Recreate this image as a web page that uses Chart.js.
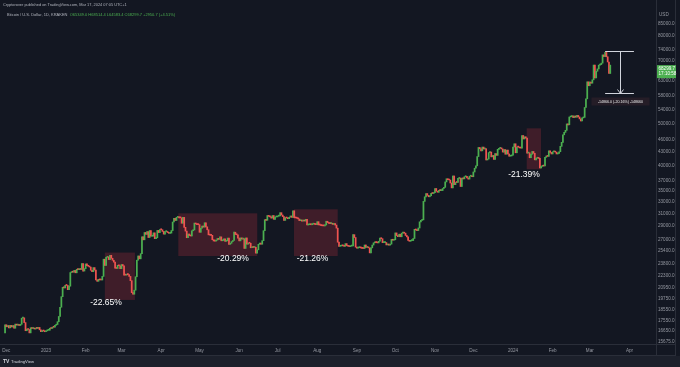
<!DOCTYPE html>
<html><head><meta charset="utf-8">
<script src="https://cdn.jsdelivr.net/npm/chart.js@4.4.1/dist/chart.umd.min.js"></script>
<style>html,body{margin:0;padding:0;background:#131722;overflow:hidden}#wrap{width:680px;height:367px}</style>
</head><body><div id="wrap"><canvas id="c" width="680" height="367"></canvas></div>
<script>
// ---- Data: daily closes (BTC/USD, Kraken, 1D) ----
const firstOpen = 16445;
// day offsets (days since 1 Jan 2023) of the first candle of each block
const monthStarts = [-32, -31, 0, 31, 59, 90, 120, 151, 181, 212, 243, 273, 304, 334, 365, 396, 425];
const nov2022 = [17165];
const dec2022 = [16980,17095,16885,17110,16965,17090,16850,17225,17130,17130,17100,17210,17780,17810,17365,16630,16780,16740,16440,16900,16825,16830,16780,16840,16835,16920,16710,16550,16630,16605,16540];
const jan2023 = [16615,16670,16675,16850,16830,16950,16940,17120,17190,17445,17940,18845,19930,20955,20880,21170,21160,20690,21075,22660,22780,22710,22920,22630,23060,23010,23080,23030,23775,22840,23140];
const feb2023 = [23725,23490,23430,23330,22940,22760,23265,22960,21795,21630,21860,21790,21775,22200,24330,23530,24570,24630,24280,24840,24450,24190,23950,23190,23160,23555,23490,23130];
const mar2023 = [23650,23475,22360,22350,22430,22410,22200,21700,20365,20190,20630,22160,24200,24750,24375,25050,27420,26970,28040,27770,28175,27300,28330,27490,27495,27990,27140,27265,28350,28030,28480];
const apr2023 = [28450,28200,27800,28170,28170,28040,27920,27950,28330,29650,30240,29890,30390,30480,30320,30315,29450,30390,28820,28250,27270,27820,27590,27520,28300,28420,29480,29340,29250,29235];
const may2023 = [28070,28680,29030,28850,29535,28900,28450,27695,27650,27620,26990,26800,26785,26930,27170,27030,27400,26830,26890,27110,26750,26850,27220,26330,26480,26720,26870,28085,27745,27700,27220];
const jun2023 = [26820,27250,27075,27120,25760,27240,26350,26500,26480,25850,25940,25900,25920,25125,25575,26330,26510,26340,26845,28310,30020,29920,30690,30550,30480,30270,30690,30080,30450,30470];
const jul2023 = [30590,30620,31160,30770,30510,29900,30350,30290,30170,30410,30620,30390,31480,30320,30300,30250,30140,29860,29910,29800,29910,29800,30080,29180,29230,29350,29220,29310,29350,29280,29230];
const aug2023 = [29700,29190,29180,29080,29050,29040,29180,29770,29560,29430,29400,29420,29280,29410,29170,28700,26630,26050,26100,26190,26120,26050,26430,26160,26060,26010,26090,26100,27720,27300,25940];
const sep2023 = [25800,25870,25970,25820,25780,25750,26240,25900,25900,25840,25160,25840,26230,26540,26600,26570,26530,26760,27210,27130,26570,26580,26580,26250,26300,26220,26360,27030,26910,26970];
const oct2023 = [27980,27590,27430,27790,27410,27950,27970,27940,27600,27390,26870,26760,26860,26860,27160,28520,28420,28330,28720,29680,29910,29990,33090,33900,34500,34160,33910,34090,34540,34500,34670];
const nov2023 = [35440,34940,34730,35080,35040,35050,35430,35650,36700,37320,37130,37070,36490,35550,37880,36160,36590,36580,37380,37470,35810,37420,37290,37720,37800,37480,37250,37830,37860,37720];
const dec2023 = [38690,39470,39980,41990,44080,43770,43290,44170,43720,43790,41240,41450,42890,43020,41930,42240,41360,42660,42260,43650,43870,43990,43720,43010,43590,42520,43440,42580,42070,42140,42280];
const jan2024 = [44180,44950,42850,44180,44160,43970,43930,46970,46120,46650,46340,42780,42850,41730,42510,43150,42740,41270,41620,41660,41580,39510,39850,40080,39930,41820,42120,42030,43300,42940,42580];
const feb2024 = [43080,43190,43000,42580,42700,43090,44340,45300,47150,47770,48290,49960,49720,51830,51940,52130,51660,52120,51780,52260,51850,51310,50740,51570,51730,54520,57090,62500,61200];
const mar2024 = [62440,62030,63160,68330,63800,66110,66940,68300,68500,69020,72120,71480,73080,71400,69460,65320,68300];
const monthCloses = [nov2022,dec2022,jan2023,feb2023,mar2023,apr2023,may2023,jun2023,jul2023,aug2023,sep2023,oct2023,nov2023,dec2023,jan2024,feb2024,mar2024];

// axis ticks
const monthTickDays = [-31,0,31,59,90,120,151,181,212,243,273,304,334,365,396,425,456];
const monthTickLabels = ['Dec','2023','Feb','Mar','Apr','May','Jun','Jul','Aug','Sep','Oct','Nov','Dec','2024','Feb','Mar','Apr'];
const priceTicks = [85000,80000,74000,70000,63000,58000,54000,50000,46000,43000,40000,37000,35000,33000,31000,29000,27000,25400,23800,22300,20950,19750,18550,17550,16650,15675];

// drawdown boxes (day range, high, low) and their labels
const boxStartDays = [46, 103.4, 193.8, 375.7];
const boxEndDays   = [69.5, 165.1, 228, 386.9];
const boxHighs = [25200, 31050, 31720, 48800];
const boxLows  = [19590, 24740, 24740, 39250];
const boxLabels = ['-22.65%', '-20.29%', '-21.26%', '-21.39%'];
const labelDays = [46.9, 146.2, 208.3, 373.6];
const labelPrices = [19270, 24350, 24350, 38070];

// price range measurement
const measureDays = [437, 459.5];
const measureTop = 73750;
const measureBottom = 58884;
const measureText = '-14866.0 (-20.16%) -148660';
const lastPrice = 68299.7;

// ---- build candles ----
const candles = [];
let prev = firstOpen;
monthStarts.forEach((start, m) => {
  monthCloses[m].forEach((c, k) => {
    candles.push({x: start + k, y: [prev, c]});
    prev = c;
  });
});

const upColor = '#4caf50', downColor = '#ef5350';
const BG = '#131722';
const FONT = '"Liberation Sans", Arial, sans-serif';

const decor = {
  id: 'decor',
  beforeDraw(chart) {
    const ctx = chart.ctx;
    ctx.save();
    ctx.fillStyle = BG;
    ctx.fillRect(0, 0, 680, 367);
    ctx.fillStyle = '#1c202b';
    ctx.fillRect(0, 356, 680, 11);
    ctx.strokeStyle = '#2a2e39';
    ctx.lineWidth = 1;
    ctx.beginPath();
    ctx.moveTo(656.5, 0); ctx.lineTo(656.5, 356);
    ctx.moveTo(675.5, 0); ctx.lineTo(675.5, 356);
    ctx.moveTo(0, 344.5); ctx.lineTo(676, 344.5);
    ctx.moveTo(0, 355.5); ctx.lineTo(676, 355.5);
    ctx.stroke();
    ctx.restore();
  },
  beforeDatasetsDraw(chart) {
    const ctx = chart.ctx, xs = chart.scales.x, ys = chart.scales.y;
    ctx.save();
    ctx.fillStyle = 'rgba(242,54,69,0.2)';
    for (let i = 0; i < boxStartDays.length; i++) {
      const x1 = xs.getPixelForValue(boxStartDays[i]);
      const x2 = xs.getPixelForValue(boxEndDays[i]);
      const y1 = ys.getPixelForValue(boxHighs[i]);
      const y2 = ys.getPixelForValue(boxLows[i]);
      ctx.fillRect(x1, y1, x2 - x1, y2 - y1);
    }
    ctx.restore();
  },
  afterDraw(chart) {
    const ctx = chart.ctx, xs = chart.scales.x, ys = chart.scales.y;
    ctx.save();
    // percent labels
    ctx.fillStyle = '#ffffff';
    ctx.font = '8.5px ' + FONT;
    ctx.textAlign = 'center';
    ctx.textBaseline = 'middle';
    for (let i = 0; i < boxLabels.length; i++) {
      ctx.fillText(boxLabels[i], xs.getPixelForValue(labelDays[i]), ys.getPixelForValue(labelPrices[i]));
    }
    // measurement
    const mx1 = xs.getPixelForValue(measureDays[0]);
    const mx2 = xs.getPixelForValue(measureDays[1]);
    const mt = Math.round(ys.getPixelForValue(measureTop)) + 0.5;
    const mb = Math.round(ys.getPixelForValue(measureBottom)) + 0.5;
    const mm = Math.round((mx1 + mx2) / 2) + 0.5;
    ctx.strokeStyle = '#d1d4dc';
    ctx.lineWidth = 1;
    ctx.beginPath();
    ctx.moveTo(mx1, mt); ctx.lineTo(mx2, mt);
    ctx.moveTo(mx1, mb); ctx.lineTo(mx2, mb);
    ctx.moveTo(mm, mt); ctx.lineTo(mm, mb);
    ctx.moveTo(mm - 3, mb - 4); ctx.lineTo(mm, mb); ctx.lineTo(mm + 3, mb - 4);
    ctx.stroke();
    ctx.fillStyle = 'rgba(40,30,40,0.9)';
    ctx.fillRect(mm - 29, mb + 4, 58, 8);
    ctx.fillStyle = '#f0f0f0';
    ctx.font = '3.6px ' + FONT;
    ctx.fillText(measureText, mm, mb + 8);
    // last price label
    const py = ys.getPixelForValue(lastPrice);
    ctx.fillStyle = upColor;
    ctx.fillRect(657, py, 19, 13);
    ctx.fillStyle = '#ffffff';
    ctx.font = '4.6px ' + FONT;
    ctx.textAlign = 'left';
    ctx.fillText('68299.7', 658.5, py + 3.5);
    ctx.fillText('17:10:58', 658.5, py + 9);
    // USD
    ctx.fillStyle = '#9598a1';
    ctx.fillText('USD', 659, 14.5);
    // header
    ctx.textBaseline = 'middle';
    ctx.font = '3.9px ' + FONT;
    ctx.fillStyle = '#b2b5be';
    ctx.fillText('Cryptorover published on TradingView.com, Mar 17, 2024 07:05 UTC+1', 3, 5);
    ctx.font = '4px ' + FONT;
    const t1 = 'Bitcoin / U.S. Dollar, 1D, KRAKEN  ';
    ctx.fillText(t1, 7, 15);
    ctx.fillStyle = '#4caf50';
    ctx.fillText('O65349.0 H68514.4 L64583.4 C68299.7 +2950.7 (+4.51%)', 7 + ctx.measureText(t1).width, 15);
    // footer logo
    ctx.fillStyle = '#d1d4dc';
    ctx.font = 'bold 5px ' + FONT;
    ctx.fillText('TV', 3, 362);
    ctx.font = '4.2px ' + FONT;
    ctx.fillText('TradingView', 11, 362);
    ctx.restore();
  }
};

new Chart(document.getElementById('c'), {
  type: 'bar',
  data: {
    datasets: [{
      data: candles,
      backgroundColor: (c) => (c.raw && c.raw.y[1] >= c.raw.y[0]) ? upColor : downColor,
      borderWidth: 0,
      barThickness: 1.1,
      minBarLength: 1
    }]
  },
  options: {
    responsive: false,
    animation: false,
    devicePixelRatio: 1,
    layout: {padding: {left: 0, right: 0, top: 0, bottom: 11}},
    plugins: {legend: {display: false}, tooltip: {enabled: false}},
    scales: {
      x: {
        type: 'linear', min: -35.95, max: 476.75, offset: false,
        grid: {display: false, drawTicks: false}, border: {display: false},
        ticks: {
          autoSkip: false, maxRotation: 0, padding: 4, color: '#9598a1',
          font: {size: 4.6, family: FONT},
          callback: (v) => { const i = monthTickDays.indexOf(v); return i >= 0 ? monthTickLabels[i] : ''; }
        },
        afterBuildTicks: (s) => { s.ticks = monthTickDays.map(v => ({value: v})); },
        afterFit: (s) => { s.height = 12; s.paddingLeft = 0; s.paddingRight = 0; s.paddingTop = 0; s.paddingBottom = 0; }
      },
      y: {
        type: 'logarithmic', position: 'right', min: 15496, max: 96574,
        grid: {display: false, drawTicks: false}, border: {display: false},
        ticks: {
          autoSkip: false, padding: 2, color: '#9598a1',
          font: {size: 4.6, family: FONT},
          callback: (v) => Number(v).toFixed(1)
        },
        afterBuildTicks: (s) => { s.ticks = priceTicks.map(v => ({value: v})); },
        afterFit: (s) => { s.width = 24; s.paddingTop = 0; s.paddingBottom = 0; s.paddingLeft = 0; s.paddingRight = 0; }
      }
    }
  },
  plugins: [decor]
});
</script></body></html>
